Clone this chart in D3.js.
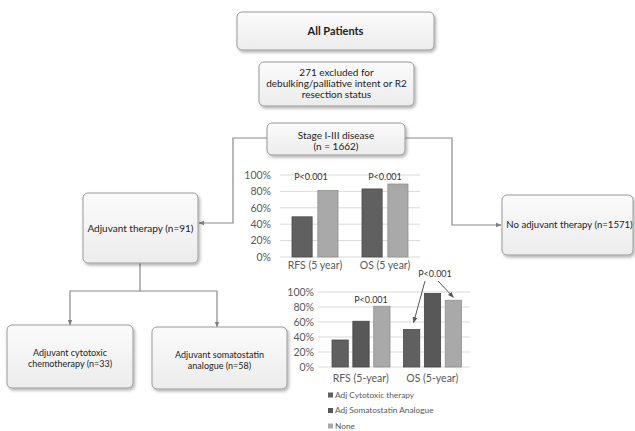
<!DOCTYPE html>
<html><head><meta charset="utf-8">
<script src="https://cdn.jsdelivr.net/npm/d3@7"></script>
<style>
body{margin:0;background:#fff;}
svg{display:block;font-family:Lato,"Open Sans",sans-serif;}
</style></head>
<body>
<svg id="c" width="635" height="431"></svg>
<script>
// ---- Data ----
const chart1Categories = ["RFS (5 year)", "OS (5 year)"];
const chart1Series = ["Adjuvant", "None"];
const chart1Adjuvant = [0.49, 0.83];
const chart1None = [0.81, 0.89];
const chart1PLabels = ["P<0.001", "P<0.001"];

const chart2Categories = ["RFS (5-year)", "OS (5-year)"];
const chart2Series = ["Adj Cytotoxic therapy", "Adj Somatostatin Analogue", "None"];
const chart2Cytotoxic = [0.36, 0.50];
const chart2Somatostatin = [0.61, 0.98];
const chart2None = [0.81, 0.89];

const yTicks = [0, 0.2, 0.4, 0.6, 0.8, 1.0];

const boxes = [
  {id:"all", lines:["All Patients"], bold:true},
  {id:"excl", lines:["271  excluded for","debulking/palliative intent or R2","resection status"]},
  {id:"stage", lines:["Stage I-III disease","(n = 1662)"]},
  {id:"adj", lines:["Adjuvant therapy (n=91)"]},
  {id:"noadj", lines:["No adjuvant therapy (n=1571)"]},
  {id:"cyto", lines:["Adjuvant cytotoxic","chemotherapy  (n=33)"]},
  {id:"soma", lines:["Adjuvant somatostatin","analogue (n=58)"]}
];

// ---- Layout ----
const svg = d3.select("#c");
const defs = svg.append("defs");
const f = defs.append("filter").attr("id","sh").attr("x","-10%").attr("y","-10%").attr("width","130%").attr("height","140%");
f.append("feDropShadow").attr("dx",1.5).attr("dy",2).attr("stdDeviation",1.5).attr("flood-color","#000").attr("flood-opacity",0.3);
const g = defs.append("linearGradient").attr("id","bg").attr("x1",0).attr("y1",0).attr("x2",0).attr("y2",1);
g.append("stop").attr("offset","0%").attr("stop-color","#fbfbfb");
g.append("stop").attr("offset","100%").attr("stop-color","#ececec");
const mk = defs.append("marker").attr("id","ar").attr("viewBox","0 0 10 10").attr("refX",9).attr("refY",5)
  .attr("markerWidth",6).attr("markerHeight",6).attr("orient","auto-start-reverse").attr("markerUnits","userSpaceOnUse");
mk.append("path").attr("d","M0,1 L10,5 L0,9 z").attr("fill","#808080");

const boxGeom = {
  all:{x:237,y:12,w:197,h:38,fs:11,ly:[31]},
  excl:{x:259,y:62,w:155,h:44,fs:10,ly:[72,83,94]},
  stage:{x:267,y:123,w:138,h:32,fs:10,ly:[135,146]},
  adj:{x:83,y:193,w:115,h:70,fs:10,ly:[228]},
  noadj:{x:502,y:195,w:131,h:60,fs:9.6,ly:[225]},
  cyto:{x:7,y:325,w:126,h:63,fs:9,ly:[353,364]},
  soma:{x:152,y:327,w:135,h:62,fs:9,ly:[355,366]}
};

// connectors
const conn = [
  [[267,138],[233,138],[233,223],[199,223]],
  [[405,138],[452,138],[452,225],[501,225]],
  [[140,263],[140,291],[70,291],[70,325]],
  [[140,291],[217,291],[217,327]]
];
svg.append("g").selectAll("path").data(conn).join("path")
  .attr("d", d => d3.line()(d)).attr("fill","none").attr("stroke","#8a8a8a").attr("stroke-width",1.2)
  .attr("marker-end","url(#ar)");

const bg = svg.append("g").selectAll("g").data(boxes).join("g");
bg.append("rect")
  .attr("x", d=>boxGeom[d.id].x).attr("y", d=>boxGeom[d.id].y)
  .attr("width", d=>boxGeom[d.id].w).attr("height", d=>boxGeom[d.id].h)
  .attr("rx",5).attr("fill","url(#bg)").attr("stroke","#9a9a9a").attr("stroke-width",1).attr("filter","url(#sh)");
bg.each(function(d){
  const b = boxGeom[d.id];
  d3.select(this).selectAll("text").data(d.lines).join("text")
    .attr("x", b.x + b.w/2 + (d.id==="noadj"?2:0)).attr("y",(t,i)=>b.ly[i]).attr("dy","0.35em")
    .attr("text-anchor","middle").attr("font-size",b.fs).attr("fill","#222")
    .attr("font-weight", d.bold ? "bold" : "normal").text(t=>t);
});

// ---- Charts ----
function drawChart(opt){
  const G = svg.append("g");
  const y = d3.scaleLinear().domain([0,1]).range([opt.y0, opt.y1]);
  const x0 = d3.scaleBand().domain(opt.cats).range(opt.xr);
  const x1 = d3.scaleBand().domain(opt.series).range(opt.inner).paddingInner(opt.pad);
  G.append("g").selectAll("line").data(yTicks).join("line")
    .attr("x1",opt.gx[0]).attr("x2",opt.gx[1]).attr("y1",d=>y(d)).attr("y2",d=>y(d))
    .attr("stroke","#d9d9d9").attr("stroke-width",1);
  const ax = G.append("g").attr("transform",`translate(${opt.ax},0)`)
    .call(d3.axisLeft(y).tickValues(yTicks).tickFormat(d3.format(".0%")).tickSize(0).tickPadding(0));
  ax.select(".domain").remove();
  ax.selectAll("text").attr("font-size",opt.fs).attr("fill","#595959").attr("font-family","Lato, 'Open Sans', sans-serif");
  opt.cats.forEach((c,ci)=>{
    opt.series.forEach((s,si)=>{
      const v = opt.values[si][ci];
      G.append("rect").attr("x", x0(c)+x1(s)).attr("width", x1.bandwidth())
        .attr("y", y(v)).attr("height", y(0)-y(v))
        .attr("fill", opt.colors[si]).attr("stroke", opt.strokes[si]).attr("stroke-width",0.8);
    });
  });
  const xa = G.append("g").attr("transform",`translate(0,${opt.xlY})`)
    .call(d3.axisBottom(x0).tickSize(0).tickPadding(0));
  xa.select(".domain").remove();
  xa.selectAll("text").attr("font-size",opt.fs).attr("fill","#595959").attr("font-family","Lato, 'Open Sans', sans-serif");
  return {G,x0,x1,y};
}

const c1 = drawChart({
  cats: chart1Categories, series: chart1Series, values:[chart1Adjuvant, chart1None],
  y0:257, y1:175, xr:[280,420], inner:[12,58], pad:0.22, gx:[280,420], ax:271,
  colors:["#606060","#a9a9a9"], strokes:["#4a4a4a","#8f8f8f"], fs:10.5, xlY:262
});
c1.G.selectAll(".pl").data(chart1Categories).join("text")
  .attr("x",(d,i)=> i===0 ? 311 : 385).attr("y",177).attr("dy","0.35em")
  .attr("text-anchor","middle").attr("font-size",9).attr("fill","#333").text((d,i)=>chart1PLabels[i]);

const c2 = drawChart({
  cats: chart2Categories, series: chart2Series, values:[chart2Cytotoxic, chart2Somatostatin, chart2None],
  y0:367, y1:292, xr:[325,468], inner:[7,65], pad:0.22, gx:[318,470], ax:314,
  colors:["#606060","#585858","#a9a9a9"], strokes:["#4a4a4a","#444","#8f8f8f"], fs:10.5, xlY:375
});
c2.G.append("text").attr("x",371).attr("y",300).attr("dy","0.35em").attr("text-anchor","middle")
  .attr("font-size",9).attr("fill","#333").text("P<0.001");
c2.G.append("text").attr("x",435).attr("y",274).attr("dy","0.35em").attr("text-anchor","middle")
  .attr("font-size",9).attr("fill","#333").text("P<0.001");
const mk2 = defs.append("marker").attr("id","ar2").attr("viewBox","0 0 10 10").attr("refX",9).attr("refY",5)
  .attr("markerWidth",6).attr("markerHeight",6).attr("orient","auto").attr("markerUnits","userSpaceOnUse");
mk2.append("path").attr("d","M0,1 L10,5 L0,9 z").attr("fill","#555");
const osx = c2.x0("OS (5-year)");
const pArrows = [
  [[425,281],[osx+c2.x1(chart2Series[0])+c2.x1.bandwidth()/2+2, c2.y(chart2Cytotoxic[1])-7]],
  [[438,281],[osx+c2.x1(chart2Series[2])+c2.x1.bandwidth()/2, c2.y(chart2None[1])-3]]
];
c2.G.selectAll(".pa").data(pArrows).join("path").attr("d",d=>d3.line()(d))
  .attr("stroke","#555").attr("stroke-width",1).attr("fill","none").attr("marker-end","url(#ar2)");

const leg = svg.append("g").selectAll("g").data(chart2Series).join("g")
  .attr("transform",(d,i)=>`translate(328,${395 + i*15.5})`);
leg.append("rect").attr("x",0).attr("y",-2.5).attr("width",5).attr("height",5)
  .attr("fill",(d,i)=>["#606060","#585858","#a9a9a9"][i]);
leg.append("text").attr("x",7).attr("dy","0.35em").attr("font-size",8.3).attr("fill","#595959").text(d=>d);
</script>
</body></html>
